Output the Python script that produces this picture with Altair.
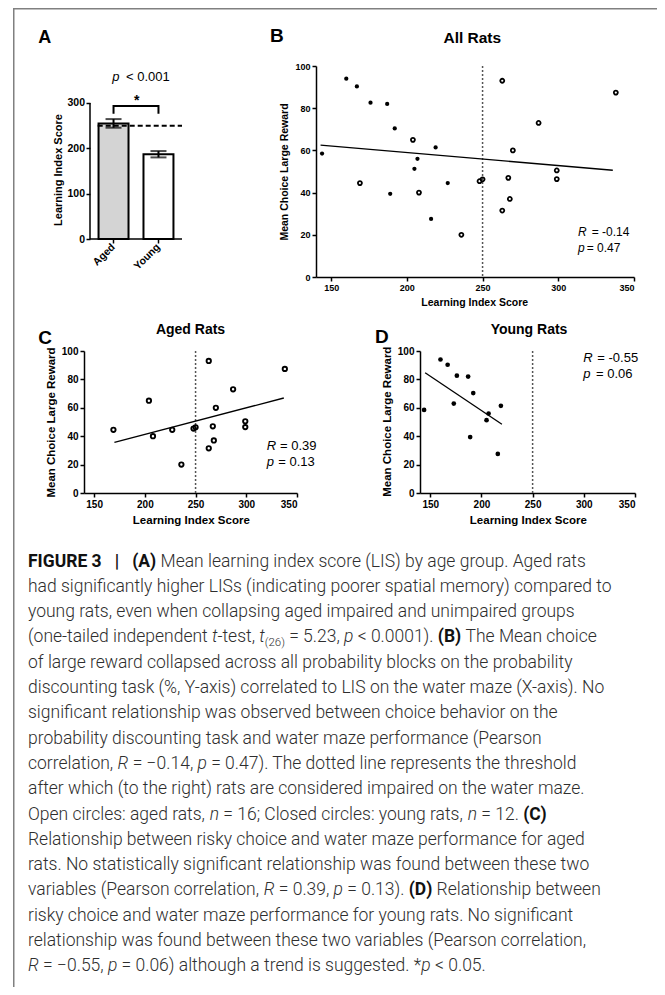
import glob
import re
import struct

import altair as alt
import pandas as pd

# ------------------------------------------------------------------ data
groups = ["Aged", "Young"]
lis_mean = [255, 187]
lis_sem = [9.5, 7.0]
threshold = 250
bracket_low, bracket_high = 276, 293.5

young_x = [144, 160, 167, 176, 187, 192, 173, 189, 205, 207, 216, 219]
young_y = [58.5, 94.0, 90.3, 82.6, 82.0, 70.4, 63.0, 39.4, 51.3, 56.0, 27.5, 61.4]
aged_x = [169, 204, 208, 227, 236, 248, 250, 263, 263, 267, 268, 270, 287, 299, 299, 338]
aged_y = [44.5, 65.0, 40.0, 44.5, 20.0, 45.4, 46.3, 93.0, 31.5, 47.0, 37.0, 60.0, 73.0, 50.5, 46.4, 87.4]

# panel B as printed
b_filled_x = [144, 160, 167, 176, 187, 192, 189, 205, 207, 216, 219, 227]
b_filled_y = [58.5, 94.0, 90.3, 82.6, 82.0, 70.4, 39.4, 51.3, 56.0, 27.5, 61.4, 44.5]
b_open_x = [169, 204, 208, 236, 248, 250, 263, 263, 267, 268, 270, 287, 299, 299, 338]
b_open_y = [44.5, 65.0, 40.0, 20.0, 45.4, 46.3, 93.0, 31.5, 47.0, 37.0, 60.0, 73.0, 50.5, 46.4, 87.4]

fit_b_x = [143, 336]
fit_b_y = [62.5, 50.6]
fit_c_x = [170, 337]
fit_c_y = [35.7, 66.9]
fit_d_x = [145, 220]
fit_d_y = [84.7, 48.4]

x_ticks = [150, 200, 250, 300, 350]
y_ticks = [0, 20, 40, 60, 80, 100]
lis_ticks = [0, 100, 200, 300]

# caption ([b] bold, [i] italic, [s] subscript)
caption_lines = [
    "[b]FIGURE 3   [/b][b]|   [/b][b](A)[/b] Mean learning index score (LIS) by age group. Aged rats",
    "had significantly higher LISs (indicating poorer spatial memory) compared to",
    "young rats, even when collapsing aged impaired and unimpaired groups",
    "(one-tailed independent [i]t[/i]-test, [i]t[/i][s](26)[/s] = 5.23, [i]p[/i] < 0.0001). [b](B)[/b] The Mean choice",
    "of large reward collapsed across all probability blocks on the probability",
    "discounting task (%, Y-axis) correlated to LIS on the water maze (X-axis). No",
    "significant relationship was observed between choice behavior on the",
    "probability discounting task and water maze performance (Pearson",
    "correlation, [i]R[/i] = \u22120.14, [i]p[/i] = 0.47). The dotted line represents the threshold",
    "after which (to the right) rats are considered impaired on the water maze.",
    "Open circles: aged rats, [i]n[/i] = 16; Closed circles: young rats, [i]n[/i] = 12. [b](C)[/b]",
    "Relationship between risky choice and water maze performance for aged",
    "rats. No statistically significant relationship was found between these two",
    "variables (Pearson correlation, [i]R[/i] = 0.39, [i]p[/i] = 0.13). [b](D)[/b] Relationship between",
    "risky choice and water maze performance for young rats. No significant",
    "relationship was found between these two variables (Pearson correlation,",
    "[i]R[/i] = \u22120.55, [i]p[/i] = 0.06) although a trend is suggested. *[i]p[/i] < 0.05.",
]

# ------------------------------------------------------------------ layout (page px)
FONT = "Liberation Sans, Arial, sans-serif"
CAP_FONT = "Roboto, Liberation Sans, sans-serif"
CAP_SIZE, SUB_SIZE = 17.5, 11.5
FRAME = "#808080"
AX, AY = 84, 66
BX, BY = 316, 66
CX, CY = 84, 351
DX, DY = 420, 351
EX, EY = 84, 540
FL, FW, FT = 13, 1.5, 8
Y1, Y2, YEND, XEND = 318, 540, 987, 657
SPLIT1, SPLIT2 = 250, 340
CAP_LEFT, CAP_BASE, CAP_STEP = 28, 566.5, 25.3

ONE = alt.Data(values=[{"a": 1}])


# ------------------------------------------------------------------ text measuring (for caption runs)
def _font_widths(names):
    for name in names:
        paths = []
        for root in ("/usr/share/fonts", "/usr/local/share/fonts", "/root/.fonts"):
            paths += glob.glob(f"{root}/**/{name}", recursive=True)
        for path in paths:
            try:
                data = open(path, "rb").read()
                u16 = lambda o: struct.unpack(">H", data[o:o + 2])[0]
                ntab = u16(4)
                tabs = {}
                for i in range(ntab):
                    tag, _, off, ln = struct.unpack(">4sIII", data[12 + 16 * i:28 + 16 * i])
                    tabs[tag.decode("latin1")] = off
                upm = u16(tabs["head"] + 18)
                nhm = u16(tabs["hhea"] + 34)
                hm = tabs["hmtx"]
                adv = [u16(hm + 4 * i) for i in range(nhm)]
                co = tabs["cmap"]
                sub = None
                for i in range(u16(co + 2)):
                    pid, eid, so = struct.unpack(">HHI", data[co + 4 + 8 * i:co + 12 + 8 * i])
                    if u16(co + so) == 4 and pid in (0, 3):
                        sub = co + so
                        break
                if sub is None:
                    continue
                segx2 = u16(sub + 6)
                ends = sub + 14
                starts = ends + segx2 + 2
                deltas = starts + segx2
                ranges = deltas + segx2

                def width(ch, adv=adv, upm=upm, nhm=nhm):
                    c = ord(ch)
                    g = 0
                    for i in range(segx2 // 2):
                        if u16(ends + 2 * i) >= c:
                            if u16(starts + 2 * i) <= c:
                                d = u16(deltas + 2 * i)
                                ro = u16(ranges + 2 * i)
                                if ro == 0:
                                    g = (c + d) & 0xFFFF
                                else:
                                    g = u16(ranges + 2 * i + ro + 2 * (c - u16(starts + 2 * i)))
                                    if g:
                                        g = (g + d) & 0xFFFF
                            break
                    return adv[min(g, nhm - 1)] / upm
                width(" ")
                return width
            except Exception:
                continue
    return None


_APPROX = {" ": .248, "(": .334, ")": .34, ",": .192, "-": .27, ".": .257, ":": .236,
           ";": .207, "=": .536, "<": .496, "%": .715, "*": .421, "|": .243, "\u2212": .55,
           "A": .652, "B": .623, "C": .651, "D": .656, "E": .568, "F": .552, "G": .68,
           "H": .713, "I": .272, "L": .538, "M": .873, "N": .713, "O": .688, "P": .631,
           "R": .615, "S": .594, "T": .597, "U": .648, "X": .627, "Y": .6,
           "a": .531, "b": .547, "c": .51, "d": .55, "e": .517, "f": .338, "g": .547,
           "h": .537, "i": .237, "j": .233, "k": .495, "l": .237, "m": .855, "n": .538,
           "o": .556, "p": .547, "q": .553, "r": .33, "s": .503, "t": .319, "u": .537,
           "v": .472, "w": .733, "x": .483, "y": .461, "z": .483}


def _approx(scale):
    return lambda ch: _APPROX.get(ch, 0.5615 if ch.isdigit() else 0.55) * scale


W_REG = _font_widths(["Roboto-Light.ttf", "Roboto-Regular.ttf", "Roboto-Regular.otf"]) or _approx(1.0)
W_BOLD = _font_widths(["Roboto-Bold.ttf", "Roboto-Bold.otf"]) or _approx(1.05)
W_ITAL = _font_widths(["Roboto-LightItalic.ttf", "Roboto-Italic.ttf", "Roboto-Italic.otf"]) or _approx(1.0)
STYLE_W = {"n": (W_REG, CAP_SIZE), "b": (W_BOLD, CAP_SIZE), "i": (W_ITAL, CAP_SIZE),
           "s": (W_REG, SUB_SIZE)}


def text_width(s, style):
    fn, size = STYLE_W[style]
    return sum(fn(ch) for ch in s) * size


def caption_runs():
    rows = []
    for li, line in enumerate(caption_lines):
        style = "n"
        x = CAP_LEFT
        for part in re.split(r"(\[/?[bis]\])", line):
            if re.fullmatch(r"\[[bis]\]", part):
                style = part[1]
                continue
            if re.fullmatch(r"\[/[bis]\]", part):
                style = "n"
                continue
            if not part:
                continue
            core = part.strip(" ")
            lead = len(part) - len(part.lstrip(" "))
            trail = len(part) - len(part.rstrip(" ")) if core else 0
            x += lead * text_width(" ", style)
            if core:
                rows.append({"line": li, "kind": style, "text": core, "px": x})
                x += text_width(core, style)
            x += trail * text_width(" ", style)
    return pd.DataFrame(rows)


# ------------------------------------------------------------------ helpers
def T(text, x, y, size, weight="normal", style="normal", align="left",
      baseline="alphabetic", angle=None, color="black", font=FONT):
    kw = dict(text=text, fontSize=size, fontWeight=weight, fontStyle=style,
              align=align, baseline=baseline, color=color, font=font)
    if angle is not None:
        kw["angle"] = angle
    return alt.Chart(ONE).mark_text(**kw).encode(x=alt.value(x), y=alt.value(y))


def RECT(x1, x2, y1, y2, color):
    return alt.Chart(ONE).mark_rect(color=color).encode(
        x=alt.value(x1), x2=alt.value(x2), y=alt.value(y1), y2=alt.value(y2))


def axis_style(values, size, pad=2):
    return alt.Axis(values=values, title=None, grid=False, labelFont=FONT,
                    labelFontSize=size, labelFontWeight="bold", labelColor="black",
                    labelPadding=pad, tickSize=4, tickWidth=1.5, tickColor="black",
                    domainColor="black", domainWidth=1.5)


# ------------------------------------------------------------------ panel A
bar_df = pd.DataFrame({"group": groups, "mean": lis_mean,
                       "lo": [m - s for m, s in zip(lis_mean, lis_sem)],
                       "hi": [m + s for m, s in zip(lis_mean, lis_sem)]})
brk_df = pd.DataFrame({"group": [groups[0], groups[0], groups[1], groups[1]],
                       "y": [bracket_low, bracket_high, bracket_high, bracket_low],
                       "o": [0, 1, 2, 3]})

xA = alt.X("group:N", sort=groups,
           scale=alt.Scale(range=[6, 98], paddingInner=0.333, paddingOuter=0.19),
           axis=alt.Axis(title=None, domain=False, labelAngle=315, labelAlign="right",
                         labelBaseline="middle", labelFont=FONT, labelFontSize=10.5,
                         labelFontWeight="bold", labelColor="black", tickSize=4,
                         tickWidth=1.5, tickColor="black", labelPadding=2))
yscaleA = alt.Scale(domain=[0, 381.6], nice=False)
yaxA = alt.Axis(values=lis_ticks, title=None, grid=False, domain=False, offset=-6,
                labelFont=FONT, labelFontSize=10.5, labelFontWeight="bold",
                labelColor="black", labelPadding=1.5, tickSize=4, tickWidth=1.5,
                tickColor="black")

bars = alt.Chart(bar_df).mark_bar(stroke="black", strokeWidth=2).encode(
    x=xA, y=alt.Y("mean:Q", scale=yscaleA, axis=yaxA),
    color=alt.Color("group:N", scale=alt.Scale(domain=groups, range=["#d4d4d4", "#ffffff"]),
                    legend=None))
err = alt.Chart(bar_df).mark_rule(color="black", strokeWidth=2).encode(
    x=xA, y=alt.Y("lo:Q", scale=yscaleA, axis=yaxA), y2="hi:Q")
cap_lo = alt.Chart(bar_df).mark_tick(color="black", thickness=2, size=16).encode(
    x=xA, y=alt.Y("lo:Q", scale=yscaleA, axis=yaxA))
cap_hi = alt.Chart(bar_df).mark_tick(color="black", thickness=2, size=16).encode(
    x=xA, y=alt.Y("hi:Q", scale=yscaleA, axis=yaxA))
thrA = alt.Chart(ONE).mark_rule(color="black", strokeWidth=2, strokeDash=[5, 3]).encode(
    x=alt.value(97.7 - AX), x2=alt.value(182 - AX), y=alt.datum(threshold, scale=yscaleA))
yline = alt.Chart(ONE).mark_rule(color="black", strokeWidth=1.5).encode(
    x=alt.value(6), y=alt.datum(0), y2=alt.datum(300))
xline = alt.Chart(ONE).mark_rule(color="black", strokeWidth=1.5).encode(
    x=alt.value(6), x2=alt.value(98), y=alt.datum(0))
bracket = alt.Chart(brk_df).mark_line(color="black", strokeWidth=2).encode(
    x=xA, y=alt.Y("y:Q", scale=yscaleA, axis=yaxA), order="o:Q")

panelA = alt.layer(
    RECT(FL - AX, FL + FW - AX, FT - AY, Y1 - AY, FRAME),
    RECT(FL - AX, SPLIT1 - AX, FT - AY, FT + FW - AY, FRAME),
    bars, err, cap_lo, cap_hi, thrA, yline, xline, bracket,
    T("A", 38.3 - AX, 42.7 - AY, 18, weight="bold"),
    T("p", 112.3 - AX, 76.7 - AY, 13, style="italic", baseline="middle"),
    T("< 0.001", 126 - AX, 76.7 - AY, 13, baseline="middle"),
    T("*", 136.7 - AX, 105 - AY, 14, weight="bold", align="center"),
    T("Learning Index Score", 59 - AX, 170 - AY, 11, weight="bold", align="center",
      baseline="middle", angle=270),
).properties(width=98, height=173)


# ------------------------------------------------------------------ scatter helpers
def sx(size):
    return alt.X("x:Q", scale=alt.Scale(domain=[140, 350], nice=False, zero=False),
                 axis=axis_style(x_ticks, size))


def sy(size):
    return alt.Y("y:Q", scale=alt.Scale(domain=[0, 100], nice=False),
                 axis=axis_style(y_ticks, size))


def pts(xs, ys, filled, size, tick_size, stroke_w=1.8):
    df = pd.DataFrame({"x": xs, "y": ys})
    if filled:
        m = alt.Chart(df).mark_point(shape="circle", filled=True, size=size,
                                     color="black", opacity=1)
    else:
        m = alt.Chart(df).mark_point(shape="circle", filled=False, size=size,
                                     color="black", strokeWidth=stroke_w, opacity=1)
    return m.encode(x=sx(tick_size), y=sy(tick_size))


def fit(xs, ys, tick_size):
    return alt.Chart(pd.DataFrame({"x": xs, "y": ys})).mark_line(
        color="black", strokeWidth=1.3).encode(x=sx(tick_size), y=sy(tick_size))


def thr():
    return alt.Chart(ONE).mark_rule(color="#555555", strokeWidth=1.5,
                                    strokeDash=[2, 2]).encode(x=alt.datum(threshold))


# ------------------------------------------------------------------ panel B
panelB = alt.layer(
    RECT(SPLIT1 - BX, XEND - BX, FT - BY, FT + FW - BY, FRAME),
    thr(), fit(fit_b_x, fit_b_y, 9),
    pts(b_filled_x, b_filled_y, True, 18, 9),
    pts(b_open_x, b_open_y, False, 16, 9),
    T("B", 270 - BX, 41.7 - BY, 19, weight="bold"),
    T("All Rats", 472.3 - BX, 43.3 - BY, 15.5, weight="bold", align="center"),
    T("Learning Index Score", 474.7 - BX, 306 - BY, 10.5, weight="bold", align="center"),
    T("Mean Choice Large Reward", 285 - BX, 172 - BY, 10.5, weight="bold",
      align="center", baseline="middle", angle=270),
    T("R", 578 - BX, 231.7 - BY, 12, style="italic", baseline="middle"),
    T("= -0.14", 591.7 - BX, 231.7 - BY, 12, baseline="middle"),
    T("p", 578 - BX, 247.7 - BY, 12, style="italic", baseline="middle"),
    T("= 0.47", 586.7 - BX, 247.7 - BY, 12, baseline="middle"),
).properties(width=318, height=211)

# ------------------------------------------------------------------ panel C
panelC = alt.layer(
    RECT(FL - CX, FL + FW - CX, Y1 - CY, Y2 - CY, FRAME),
    RECT(FL + 3 - CX, SPLIT2 - CX, Y1 - CY, Y1 - CY, "white"),
    thr(), fit(fit_c_x, fit_c_y, 10),
    pts(aged_x, aged_y, False, 19, 10, 1.9),
    T("C", 38.3 - CX, 344 - CY, 19, weight="bold"),
    T("Aged Rats", 190.5 - CX, 334 - CY, 14, weight="bold", align="center"),
    T("Learning Index Score", 191.3 - CX, 524 - CY, 11.5, weight="bold", align="center"),
    T("Mean Choice Large Reward", 52.3 - CX, 422.5 - CY, 11.5, weight="bold",
      align="center", baseline="middle", angle=270),
    T("R", 266.7 - CX, 445.7 - CY, 13, style="italic", baseline="middle"),
    T("= 0.39", 280 - CX, 445.7 - CY, 13, baseline="middle"),
    T("p", 266.7 - CX, 462.3 - CY, 13, style="italic", baseline="middle"),
    T("= 0.13", 278.3 - CX, 462.3 - CY, 13, baseline="middle"),
).properties(width=213, height=142)

# ------------------------------------------------------------------ panel D
panelD = alt.layer(
    RECT(SPLIT2 - DX, 0, Y1 - DY, Y1 - DY, "white"),
    thr(), fit(fit_d_x, fit_d_y, 10),
    pts(young_x, young_y, True, 22, 10),
    T("D", 375 - DX, 343.3 - DY, 19, weight="bold"),
    T("Young Rats", 529 - DX, 334 - DY, 14, weight="bold", align="center"),
    T("Learning Index Score", 528.3 - DX, 524 - DY, 11.5, weight="bold", align="center"),
    T("Mean Choice Large Reward", 388.3 - DX, 421.7 - DY, 11.5, weight="bold",
      align="center", baseline="middle", angle=270),
    T("R", 583.3 - DX, 358.3 - DY, 13, style="italic", baseline="middle"),
    T("= -0.55", 597.3 - DX, 358.3 - DY, 13, baseline="middle"),
    T("p", 583.3 - DX, 374.3 - DY, 13, style="italic", baseline="middle"),
    T("= 0.06", 596 - DX, 374.3 - DY, 13, baseline="middle"),
).properties(width=215, height=142)

# ------------------------------------------------------------------ caption
cap_df = caption_runs()
cap_df["x"] = cap_df["px"] - EX
cap_df["y"] = CAP_BASE - EY + CAP_STEP * cap_df["line"] + (cap_df["kind"] == "s") * 4


def cap_layer(kind, size, weight, style, color):
    return alt.Chart(cap_df[cap_df["kind"] == kind]).mark_text(
        align="left", baseline="alphabetic", font=CAP_FONT, fontSize=size,
        fontWeight=weight, fontStyle=style, color=color).encode(
        x=alt.X("x:Q", scale=None, axis=None), y=alt.Y("y:Q", scale=None, axis=None),
        text="text:N")


caption = alt.layer(
    RECT(FL - EX, FL + FW - EX, 0, YEND - EY, FRAME),
    cap_layer("n", CAP_SIZE, 300, "normal", "#2e2e2e"),
    cap_layer("i", CAP_SIZE, 300, "italic", "#2e2e2e"),
    cap_layer("b", CAP_SIZE, "bold", "normal", "#111111"),
    cap_layer("s", SUB_SIZE, 300, "normal", "#2e2e2e"),
).properties(width=540, height=420)

chart = alt.vconcat(
    alt.hconcat(panelA, panelB, spacing=0),
    alt.hconcat(panelC, panelD, spacing=0),
    caption,
    spacing=0,
).properties(
    padding={"left": 5, "top": 0, "right": 0, "bottom": 0}
).configure_view(stroke="transparent", strokeWidth=0)

chart.save("out.html", embed_options={"renderer": "svg", "actions": False})
